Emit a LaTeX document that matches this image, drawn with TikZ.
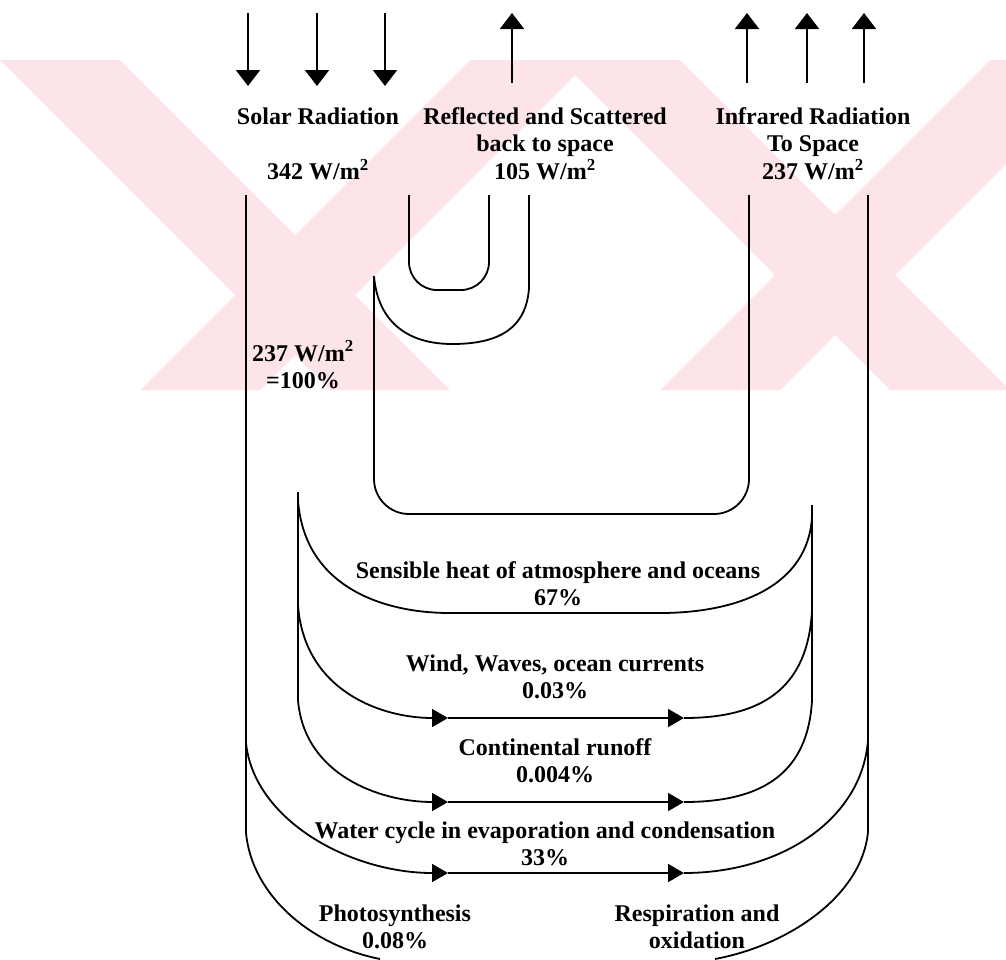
\documentclass[tikz,border=0pt]{standalone}
\usepackage{fontspec}
\setmainfont{Liberation Serif}
\usetikzlibrary{arrows.meta, positioning}

\definecolor{markpink}{RGB}{252,228,233}

\tikzstyle{txt} = [
  font=\fontsize{24}{28}\selectfont\bfseries,
  text height=17pt,
  text depth=5pt,
  inner sep=0
]
\tikzstyle{flow} = [
  line width=1.8pt,
  draw=black
]
\tikzstyle{ray} = [
  line width=2pt,
  -{Triangle[length=16pt, width=24pt]}
]
\tikzstyle{flowarrow} = [
  flow,
  -{Triangle[length=16pt, width=18pt]}
]

\begin{document}
\begin{tikzpicture}[x=1pt, y=-1pt]
      \useasboundingbox (0,0) rectangle (1006,959);

      % watermark in the background
      \begin{scope}
        \clip (0,60) rectangle (1006,390);
        \fill [markpink] (0,60) -- (120,60) -- (450,390) -- (330,390) -- cycle;
        \fill [markpink] (470,60) -- (590,60) -- (260,390) -- (140,390) -- cycle;
        \fill [markpink] (560,60) -- (680,60) -- (1010,390) -- (890,390) -- cycle;
        \fill [markpink] (990,60) -- (1110,60) -- (780,390) -- (660,390) -- cycle;
      \end{scope}

      % incoming and outgoing radiation
      \foreach \x [count=\i] in {248,317,385} {
        \coordinate (sun top \i) at (\x,13);
        \coordinate (sun tip \i) at (\x,86);
        \draw [ray] (sun top \i) -- (sun tip \i);
      }
      \coordinate (refl foot) at (512,83);
      \coordinate (refl tip) at (512,13);
      \draw [ray] (refl foot) -- (refl tip);
      \foreach \x [count=\i] in {747,807,864} {
        \coordinate (ir foot \i) at (\x,83);
        \coordinate (ir tip \i) at (\x,13);
        \draw [ray] (ir foot \i) -- (ir tip \i);
      }

      \node [txt] (solar) at (318,118) {Solar Radiation};
      \node [txt, below=33pt of solar] (solar val) {342 W/m\textsuperscript{2}};
      \node [txt] (refl) at (545,118) {Reflected and Scattered};
      \node [txt, below=5.5pt of refl] (refl sub) {back to space};
      \node [txt, below=5.5pt of refl sub] (refl val) {105 W/m\textsuperscript{2}};
      \node [txt] (ir) at (813,118) {Infrared Radiation};
      \node [txt, below=5.5pt of ir] (ir sub) {To Space};
      \node [txt, below=5.5pt of ir sub] (ir val) {237 W/m\textsuperscript{2}};

      % reflected part of the solar band
      \coordinate (u in) at (409,195);
      \coordinate (u out) at (489,195);
      \coordinate (refl out) at (529,195);
      \coordinate (refl turn) at (529,288);
      \coordinate (spike) at (374,276);
      \coordinate (ir in) at (749,195);
      \draw [flow, rounded corners=28] (u in) -- (409,290) -- (489,290) -- (u out);
      \draw [flow] (refl out) -- (refl turn) .. controls (526,333) and (492,344) .. (452,344)
        .. controls (410,344) and (378,324) .. (spike);
      \draw [flow, rounded corners=35] (spike) -- (374,514) -- (749,514) -- (ir in);

      % outer band
      \coordinate (solar l) at (246,195);
      \coordinate (photo l) at (246,833);
      \coordinate (water l) at (246,743);
      \coordinate (ir r) at (868,195);
      \coordinate (resp r) at (868,832);
      \coordinate (water r) at (868,740);
      \draw [flow] (solar l) -- (photo l);
      \draw [flow] (ir r) -- (resp r);

      \node [txt] (share) at (303,355) {237 W/m\textsuperscript{2}};
      \node [txt, below=5pt of share] (share pct) {=100\%};

      % inner band
      \coordinate (heat l) at (298,492);
      \coordinate (run l) at (298,700);
      \coordinate (heat r) at (812,505);
      \coordinate (run r) at (812,700);
      \draw [flow] (heat l) -- (run l);
      \draw [flow] (heat r) -- (run r);

      % sensible heat
      \draw [flow] (298,500) .. controls (304,585) and (380,613) .. (450,613) -- (660,613)
        .. controls (740,613) and (808,585) .. (812,517);
      \node [txt] (heat) at (558,572) {Sensible heat of atmosphere and oceans};
      \node [txt, below=5.5pt of heat] (heat val) {67\%};

      % wind, waves, currents
      \coordinate (wind a) at (448,718);
      \coordinate (wind b) at (684,718);
      \draw [flowarrow] (298,605) .. controls (304,690) and (380,718) .. (wind a);
      \draw [flowarrow] (wind a) -- (wind b);
      \draw [flow] (wind b) .. controls (760,718) and (808,690) .. (812,610);
      \node [txt] (wind) at (555,665) {Wind, Waves, ocean currents};
      \node [txt, below=5.5pt of wind] (wind val) {0.03\%};

      % continental runoff
      \coordinate (run a) at (448,802);
      \coordinate (run b) at (684,802);
      \draw [flowarrow] (run l) .. controls (304,775) and (380,802) .. (run a);
      \draw [flowarrow] (run a) -- (run b);
      \draw [flow] (run b) .. controls (760,802) and (808,775) .. (run r);
      \node [txt] (run) at (555,749) {Continental runoff};
      \node [txt, below=5.5pt of run] (run val) {0.004\%};

      % water cycle
      \coordinate (water a) at (448,873);
      \coordinate (water b) at (684,873);
      \draw [flowarrow] (water l) .. controls (254,820) and (350,873) .. (water a);
      \draw [flowarrow] (water a) -- (water b);
      \draw [flow] (water b) .. controls (780,873) and (862,820) .. (water r);
      \node [txt] (water) at (545,832) {Water cycle in evaporation and condensation};
      \node [txt, below=5.5pt of water] (water val) {33\%};

      % photosynthesis and respiration
      \coordinate (photo end) at (380,959);
      \coordinate (resp end) at (715,959);
      \draw [flow] (photo l) .. controls (252,895) and (310,945) .. (photo end);
      \draw [flow] (resp r) .. controls (862,895) and (790,945) .. (resp end);
      \node [txt] (photo) at (395,915) {Photosynthesis};
      \node [txt, below=5.5pt of photo] (photo val) {0.08\%};
      \node [txt] (resp) at (697,915) {Respiration and};
      \node [txt, below=5.5pt of resp] (resp sub) {oxidation};

    \end{tikzpicture}
\end{document}
